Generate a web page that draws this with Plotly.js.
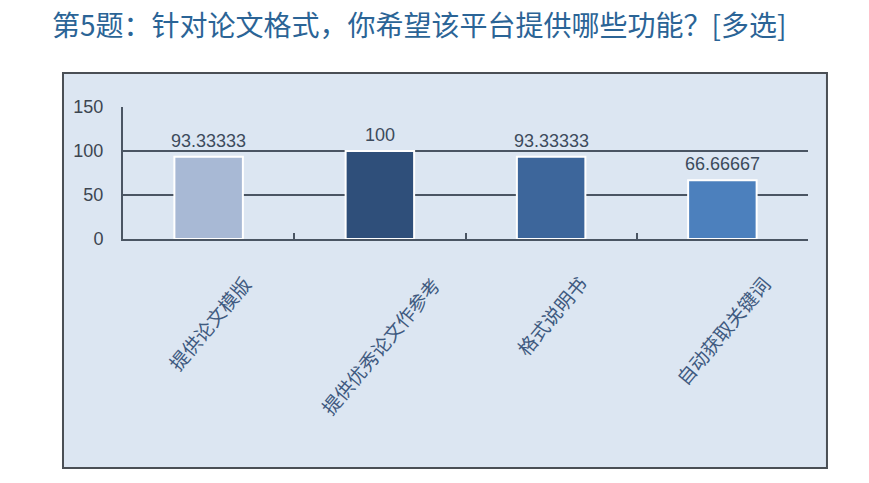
<!DOCTYPE html>
<html>
<head>
<meta charset="utf-8">
<script src="https://cdn.plot.ly/plotly-3.0.1.min.js"></script>
<style>html,body{margin:0;padding:0;background:#fff;}#chart{width:869px;height:483px;}</style>
</head>
<body>
<div id="chart"></div>
<script>
var categories = ["提供论文模版", "提供优秀论文作参考", "格式说明书", "自动获取关键词"];
var values = [93.33333, 100, 93.33333, 66.66667];
var valueLabels = ["93.33333", "100", "93.33333", "66.66667"];
var barColors = ["#a8b9d5", "#2f4f7a", "#3d669b", "#4c80bd"];
var yTicks = [0, 50, 100, 150];
var titleText = "第5题：针对论文格式，你希望该平台提供哪些功能？[多选]";

var cjk = "'Noto Sans CJK SC', 'Liberation Sans', sans-serif";

var trace = {
  type: "bar",
  x: categories,
  y: values,
  marker: {color: barColors, line: {color: "#ffffff", width: 2}},
  hoverinfo: "none"
};

var catAnnotations = categories.map(function (c) {
  return {
    x: c, xref: "x",
    y: -0.22, yref: "paper",
    xanchor: "center", yanchor: "top",
    text: c, showarrow: false,
    textangle: -50,
    font: {family: cjk, size: 19, color: "#3f5a80"}
  };
});

var valueAnnotations = categories.map(function (c, i) {
  return {
    x: c, xref: "x",
    y: values[i], yref: "y",
    xanchor: "center", yanchor: "bottom",
    yshift: 4,
    text: valueLabels[i], showarrow: false,
    font: {family: "'Liberation Sans', sans-serif", size: 18, color: "#3d4b5c"}
  };
});

var layout = {
  width: 869, height: 483,
  margin: {l: 123, r: 61, t: 107, b: 244},
  paper_bgcolor: "#ffffff",
  plot_bgcolor: "#dce6f2",
  bargap: 0.6,
  showlegend: false,
  title: {
    text: titleText,
    xref: "container", yref: "container",
    x: 52 / 869, xanchor: "left",
    y: 1 - 26 / 483, yanchor: "middle",
    font: {family: cjk, size: 28, color: "#2b6496"}
  },
  xaxis: {
    type: "category",
    range: [-0.5, 3.5],
    showticklabels: false,
    showgrid: false,
    showline: true, linecolor: "#4a5563", linewidth: 2,
    ticks: "inside", tickson: "boundaries", ticklen: 6, tickwidth: 2, tickcolor: "#4a5563",
    fixedrange: true
  },
  yaxis: {
    range: [0, 150],
    tickvals: yTicks,
    ticktext: yTicks.map(String),
    showgrid: true, gridcolor: "#4a5563", gridwidth: 2,
    showline: true, linecolor: "#4a5563", linewidth: 2,
    zeroline: false,
    ticks: "",
    ticklabelstandoff: 14,
    tickfont: {family: "'Liberation Sans', sans-serif", size: 18, color: "#3c4550"},
    fixedrange: true
  },
  shapes: [{
    type: "rect", xref: "paper", yref: "paper",
    x0: -0.0876, x1: 1.0277, y0: -1.735, y1: 1.2576,
    fillcolor: "#dce6f2", line: {color: "#4a4f55", width: 2},
    layer: "below"
  }],
  annotations: valueAnnotations.concat(catAnnotations)
};

Plotly.newPlot("chart", [trace], layout, {displayModeBar: false, staticPlot: true});
</script>
</body>
</html>
